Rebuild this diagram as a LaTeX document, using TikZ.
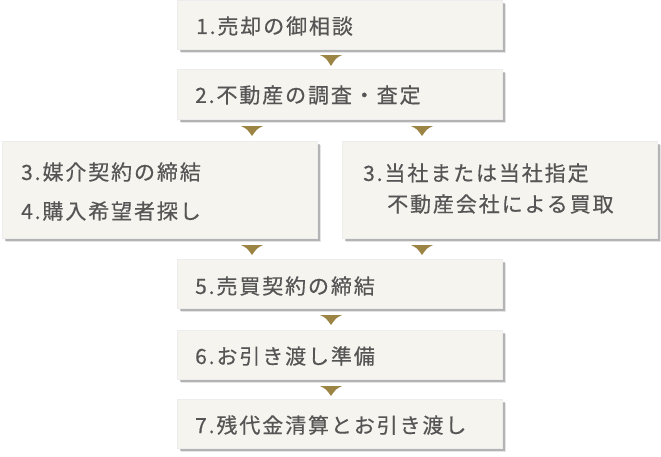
\documentclass[tikz,border=0pt]{standalone}
\usepackage{fontspec}
\newfontfamily\jp[LetterSpace=9, FakeBold=0.5]{Noto Sans CJK JP}
\usetikzlibrary{shadows}
\definecolor{boxfill}{HTML}{F6F4EE}
\definecolor{txt}{HTML}{555555}
\definecolor{gold}{HTML}{9C8444}
\tikzset{
  flowbox/.style={anchor=north west, inner sep=0pt, fill=boxfill, draw=black!7, line width=0.4pt,
    drop shadow={shadow xshift=3.5pt, shadow yshift=-3.5pt, opacity=0.10, fill=black},
    drop shadow={shadow xshift=2.5pt, shadow yshift=-2.5pt, opacity=0.22, fill=black},
    drop shadow={shadow xshift=1.2pt, shadow yshift=-1.2pt, opacity=0.40, fill=black}},
  label/.style={anchor=west, inner sep=0pt, text=txt, font=\jp\fontsize{21pt}{26pt}\selectfont},
  tri/.style={fill=gold}
}
\newcommand{\flowtri}[3]{%
  \fill[tri] (#1-11,#2) -- (#1+11,#2) .. controls (#1+5,#2+3) .. (#1,#3) .. controls (#1-5,#2+3) .. cycle;}
\begin{document}
\begin{tikzpicture}[x=1pt,y=-1pt]
\useasboundingbox (0,0) rectangle (661,456);
% boxes
\node[flowbox, minimum width=325pt, minimum height=49pt] (b1) at (177,0) {};
\node[flowbox, minimum width=325pt, minimum height=50pt] (b2) at (177,69) {};
\node[flowbox, minimum width=315pt, minimum height=97pt] (b3l) at (2,141) {};
\node[flowbox, minimum width=315pt, minimum height=97pt] (b3r) at (342,141) {};
\node[flowbox, minimum width=325pt, minimum height=49pt] (b5) at (177,259) {};
\node[flowbox, minimum width=325pt, minimum height=49pt] (b6) at (177,330) {};
\node[flowbox, minimum width=325pt, minimum height=49pt] (b7) at (177,399) {};
% texts
\node[label] (t1) at (196,26) {1.売却の御相談};
\node[label] (t2) at (195,95) {2.不動産の調査・査定};
\node[label] (t3a) at (21,172) {3.媒介契約の締結};
\node[label] (t3b) at (21,211) {4.購入希望者探し};
\node[label] (t3c) at (363,173) {3.当社または当社指定};
\node[label] (t3d) at (387,204) {不動産会社による買取};
\node[label] (t5) at (195,286) {5.売買契約の締結};
\node[label] (t6) at (195,356) {6.お引き渡し準備};
\node[label] (t7) at (195,425) {7.残代金清算とお引き渡し};
% arrow triangles
\flowtri{331}{55}{66}
\flowtri{252}{126}{136}
\flowtri{422}{126}{136}
\flowtri{252}{245}{255}
\flowtri{422}{245}{255}
\flowtri{331}{315}{325}
\flowtri{331}{386}{396}
\end{tikzpicture}
\end{document}
